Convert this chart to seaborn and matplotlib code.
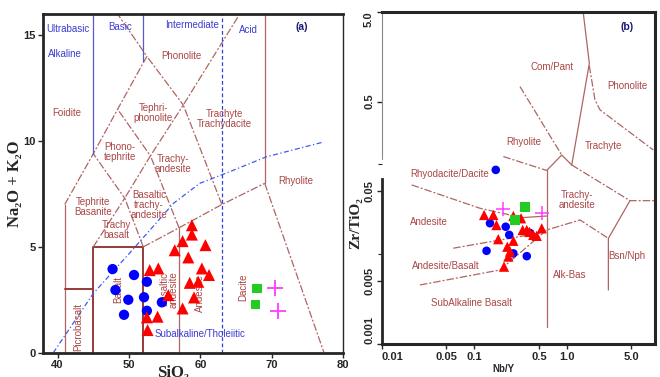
import matplotlib
matplotlib.use("Agg")
import matplotlib.pyplot as plt
from matplotlib.ticker import NullFormatter
import seaborn as sns

# ==========================================
# DATA - (a) TAS diagram
# ==========================================
sio2_circ = [47.7, 50.7, 52.5, 48.1, 52.1, 49.9, 54.6, 52.5, 49.3]
alk_circ = [3.95, 3.67, 3.35, 2.96, 2.62, 2.50, 2.38, 1.98, 1.79]

sio2_tri = [58.8, 58.8, 57.5, 60.7, 56.4, 58.3, 52.9, 54.1, 60.2,
            61.2, 58.5, 59.7, 55.5, 59.1, 57.5, 52.5, 54.0, 52.6]
alk_tri = [6.02, 5.58, 5.27, 5.08, 4.84, 4.50, 3.90, 3.98, 3.98,
           3.67, 3.30, 3.35, 2.72, 2.61, 2.09, 1.67, 1.70, 1.07]

sio2_sq = [67.9, 67.7]
alk_sq = [3.04, 2.28]

sio2_plus = [70.5, 70.9]
alk_plus = [3.04, 1.97]

# ==========================================
# DATA - (b) Zr/TiO2 vs Nb/Y
# ==========================================
nby_circ = [0.171, 0.148, 0.219, 0.239, 0.401, 0.136, 0.265, 0.370]
zrti_circ = [0.0867, 0.0221, 0.0202, 0.0164, 0.0172, 0.0109, 0.0102, 0.0095]

nby_tri = [0.128, 0.161, 0.174, 0.265, 0.321, 0.334, 0.370, 0.435, 0.474,
           0.537, 0.182, 0.265, 0.228, 0.244, 0.234, 0.210, 0.395]
zrti_tri = [0.0273, 0.0273, 0.0211, 0.0266, 0.0251, 0.0186, 0.0186, 0.0164, 0.0160,
            0.0194, 0.0147, 0.0141, 0.0121, 0.0107, 0.0094, 0.00726, 0.0177]

nby_sq = [0.354, 0.276]
zrti_sq = [0.0338, 0.0240]

nby_plus = [0.207, 0.534]
zrti_plus = [0.0315, 0.0284]

# ==========================================
# FIELD BOUNDARIES
# ==========================================
tas_solid = [
    [(41, 0), (41, 7)],
    [(57, 0), (57, 5.9)],
    [(69, 8), (69, 16)],
]
tas_box = [
    [(41, 3), (45, 3)],
    [(45, 0), (45, 5), (52, 5), (52, 0)],
]
tas_dash = [
    [(41, 7), (45, 9.4), (48.4, 11.5), (52.5, 14), (48.4, 16)],
    [(45, 5), (49.4, 7.3), (45, 9.4)],
    [(52, 5), (49.4, 7.3), (53, 9.3), (48.4, 11.5)],
    [(57, 5.9), (53, 9.3), (57.6, 11.7), (52.5, 14)],
    [(63, 7), (57.6, 11.7), (65.5, 16)],
    [(52, 5), (57, 5.9), (63, 7), (69, 8)],
    [(69, 8), (77.3, 0)],
]
class_solid = [
    [(45, 9.4), (45, 16)],
    [(52, 13.8), (52, 16)],
]
class_dash = [
    [(63, 0), (63, 16)],
]
alkaline_curve = [(39.4, 0), (45, 2.8), (50.6, 4.9), (56.2, 7.05), (59.9, 8.0),
                  (64.1, 8.55), (69.2, 9.25), (77.2, 9.95)]

wf_solid = [
    [(0.608, 0.0855), (0.608, 0.00156)],
    [(0.608, 0.0855), (0.883, 0.127), (1.133, 0.0984)],
    [(1.51, 4.85), (1.755, 1.33), (1.133, 0.0984)],
    [(4.83, 0.0394), (2.82, 0.015), (2.82, 0.00399)],
    [(0.33, 0.0255), (0.608, 0.0266)],
]
wf_dash = [
    [(0.3126, 0.733), (0.883, 0.127)],
    [(1.755, 1.25), (2.02, 0.521), (2.29, 0.404), (8.63, 0.1445)],
    [(0.2066, 0.122), (0.608, 0.0855)],
    [(1.133, 0.0984), (4.83, 0.0394), (9.0, 0.0394)],
    [(0.0259, 0.00454), (0.190, 0.00667), (0.608, 0.0186), (1.393, 0.024), (2.82, 0.015)],
    [(0.0594, 0.01165), (0.514, 0.0172)],
    [(0.0211, 0.059), (0.1156, 0.0324), (0.33, 0.0255)],
]

tas_labels = [
    ("Foidite", 41.3, 11.3, 0), ("Phonolite", 57.4, 14.0, 0),
    ("Tephri-\nphonolite", 53.4, 11.3, 0), ("Trachyte\nTrachydacite", 63.4, 11.05, 0),
    ("Phono-\ntephrite", 48.7, 9.5, 0), ("Trachy-\nandesite", 56.2, 8.9, 0),
    ("Tephrite\nBasanite", 45.0, 6.9, 0), ("Basaltic\ntrachy-\nandesite", 52.8, 7.0, 0),
    ("Trachy\nbasalt", 48.3, 5.8, 0), ("Rhyolite", 73.4, 8.1, 0),
    ("Dacite", 66.0, 3.1, 90), ("Andesite", 59.9, 2.8, 90),
    ("Basaltic\nandesite", 55.6, 3.0, 90), ("Basalt", 48.5, 3.0, 90),
    ("Picrobasalt", 42.9, 1.2, 90),
]
class_labels = [
    ("Ultrabasic", 41.5, 15.3), ("Basic", 48.8, 15.4), ("Intermediate", 58.8, 15.5),
    ("Acid", 66.7, 15.25), ("Alkaline", 41.0, 14.1), ("Subalkaline/Tholeiitic", 59.9, 0.9),
]
wf_labels = [
    ("Com/Pant", 0.689, 1.22), ("Phonolite", 4.52, 0.746), ("Rhyolite", 0.34, 0.179),
    ("Trachyte", 2.49, 0.161), ("Rhyodacite/Dacite", 0.0547, 0.078),
    ("Trachy-\nandesite", 1.28, 0.0402), ("Andesite", 0.0327, 0.023),
    ("Andesite/Basalt", 0.0496, 0.00745), ("SubAlkaline Basalt", 0.094, 0.00288),
    ("Alk-Bas", 1.07, 0.00586), ("Bsn/Nph", 4.46, 0.0096),
]

# ==========================================
# STYLE
# ==========================================
sns.set_style("ticks")
plt.rcParams["font.family"] = ["Liberation Sans", "DejaVu Sans"]

BROWN = "#b06464"
BROWN_TXT = "#aa4646"
BOX = "#983838"
BLUE_TXT = "#3c3cd2"
BLUE_LINE = "#5a5ac8"
DASH = (0, (6, 1.6, 1.6, 1.6))
SERIF = ["Liberation Serif", "DejaVu Serif"]


def draw(ax, pts, **kw):
    xs = [p[0] for p in pts]
    ys = [p[1] for p in pts]
    ax.plot(xs, ys, **kw)


def scatter(ax, x, y, marker, color, size, lw=0):
    sns.scatterplot(x=x, y=y, ax=ax, marker=marker, color=color, s=size,
                    linewidth=lw, edgecolor=color if lw else "none", zorder=5)


fig = plt.figure(figsize=(6.6, 3.77), dpi=100)
ax1 = fig.add_axes([43.3 / 660, 24.3 / 377, 300 / 660, 338.7 / 377])
ax2 = fig.add_axes([381.7 / 660, 33 / 377, 273.3 / 660, 332.3 / 377])

# ==========================================
# (a) TAS
# ==========================================
for seg in tas_solid:
    draw(ax1, seg, color=BROWN, lw=0.9)
for seg in tas_box:
    draw(ax1, seg, color=BOX, lw=1.4)
for seg in tas_dash:
    draw(ax1, seg, color=BROWN, lw=0.9, ls=DASH)
for seg in class_solid:
    draw(ax1, seg, color=BLUE_LINE, lw=0.9)
for seg in class_dash:
    draw(ax1, seg, color="#3040d8", lw=0.9, ls=(0, (3, 2)))
draw(ax1, alkaline_curve, color="#3c5cf0", lw=0.9, ls=(0, (4, 2, 1, 2)))

for txt, x, y, rot in tas_labels:
    ax1.text(x, y, txt, color=BROWN_TXT, fontsize=7, ha="center", va="center",
             rotation=rot, linespacing=1.0)
for txt, x, y in class_labels:
    ax1.text(x, y, txt, color=BLUE_TXT, fontsize=7, ha="center", va="center")

scatter(ax1, sio2_circ, alk_circ, "o", "#0000ff", 55)
scatter(ax1, sio2_tri, alk_tri, "^", "#ff0000", 75)
scatter(ax1, sio2_sq, alk_sq, "s", "#22cc22", 45)
scatter(ax1, sio2_plus, alk_plus, "+", "#ff3cff", 140, lw=1.3)

ax1.set_xlim(38, 80)
ax1.set_ylim(0, 16)
ax1.set_xticks([40, 50, 60, 70, 80])
ax1.set_yticks([0, 5, 10, 15])
ax1.text(0.862, 0.962, "(a)", transform=ax1.transAxes, color="#1a1a70",
         fontsize=7.5, fontweight="bold", ha="center", va="center")
ax1.set_ylabel("Na₂O + K₂O", family=SERIF, fontweight="bold", fontsize=12)
ax1.yaxis.set_label_coords(-0.068, 0.5)
ax1.set_xlabel("SiO₂", family=SERIF, fontweight="bold", fontsize=12)
ax1.xaxis.set_label_coords(0.432, -0.035)
for side in ["left", "bottom", "top"]:
    ax1.spines[side].set_linewidth(2)
ax1.spines["right"].set_linewidth(1)

# ==========================================
# (b) Winchester & Floyd
# ==========================================
for seg in wf_solid:
    draw(ax2, seg, color=BROWN, lw=0.9)
for seg in wf_dash:
    draw(ax2, seg, color=BROWN, lw=0.9, ls=DASH)

for txt, x, y in wf_labels:
    ax2.text(x, y, txt, color=BROWN_TXT, fontsize=7, ha="center", va="center",
             linespacing=1.0)

scatter(ax2, nby_circ, zrti_circ, "o", "#0000ff", 38)
scatter(ax2, nby_tri, zrti_tri, "^", "#ff0000", 55)
scatter(ax2, nby_sq, zrti_sq, "s", "#22cc22", 50)
scatter(ax2, nby_plus, zrti_plus, "+", "#ff3cff", 110, lw=1.1)

ax2.set_xscale("log")
ax2.set_yscale("log")
ax2.set_xlim(0.01, 9.0)
ax2.set_ylim(0.001, 5.0)
ax2.set_xticks([0.01, 0.05, 0.1, 0.5, 1.0, 5.0])
ax2.set_xticklabels(["0.01", "0.05", "0.1", "0.5", "1.0", "5.0"])
ax2.set_xticks([], minor=True)
ax2.set_yticks([0.001, 0.005, 0.05, 0.5, 5.0])
ax2.set_yticklabels(["0.001", "0.005", "0.05", "0.5", "5.0"], rotation=90, va="center")
ax2.set_yticks([0.01, 0.1], minor=True)
ax2.yaxis.set_minor_formatter(NullFormatter())
ax2.tick_params(axis="y", which="minor", length=3, width=0.8)
ylabs = ax2.get_yticklabels()
ylabs[0].set_va("bottom")
ylabs[-1].set_va("top")
ax2.get_xticklabels()[0].set_ha("left")
ax2.text(0.896, 0.955, "(b)", transform=ax2.transAxes, color="#1a1a70",
         fontsize=7.5, fontweight="bold", ha="center", va="center")
ax2.set_ylabel("Zr/TiO₂", family=SERIF, fontweight="bold", fontsize=11)
ax2.yaxis.set_label_coords(-0.07, 0.364)
ax2.set_xlabel("Nb/Y", fontsize=7, fontweight="bold")
ax2.xaxis.set_label_coords(0.444, -0.06)
for side in ["bottom", "top", "right"]:
    ax2.spines[side].set_linewidth(2.2)
ax2.spines["left"].set_linewidth(2)
ax2.spines["left"].set_bounds(0.001, 0.0687)
ax2.plot([0, 0], [0.558, 1], transform=ax2.transAxes, color="#888888",
         lw=0.8, clip_on=False)

for ax in (ax1, ax2):
    ax.tick_params(axis="both", which="major", length=3.5, width=1, labelsize=8, pad=2)
    for lab in ax.get_xticklabels() + ax.get_yticklabels():
        lab.set_fontweight("bold")
    ax.set_facecolor("white")

fig.savefig("out.png", dpi=100)
